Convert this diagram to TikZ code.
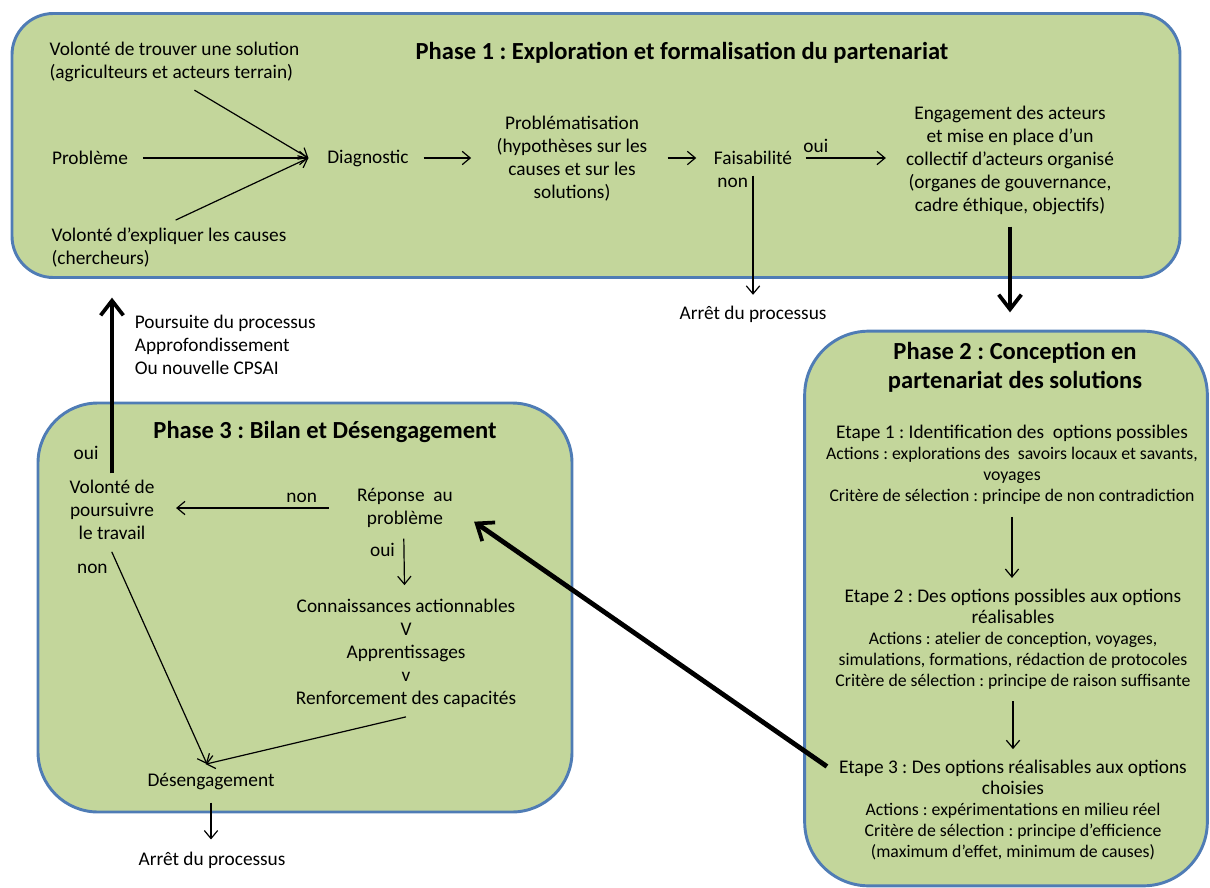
\documentclass[tikz,border=0pt]{standalone}
\usepackage{fontspec}
\setmainfont{Carlito}
\usetikzlibrary{arrows.meta}
\frenchspacing

\definecolor{phasefill}{HTML}{C3D69B}
\definecolor{phaseline}{HTML}{4F7CB5}

\tikzset{
  phasebox/.style={draw=phaseline, fill=phasefill, line width=2.2pt, rounded corners=#1, inner sep=0},
  txt/.style={align=center, inner sep=1pt, font=\fontsize{14.5}{17.25}\selectfont},
  ptxt/.style={align=center, inner sep=1pt, font=\fontsize{13.3}{15.75}\selectfont},
  ptitle/.style={align=center, inner sep=1pt, font=\fontsize{18.4}{21.75}\selectfont\bfseries},
  thin/.style={-{Straight Barb[length=6pt,width=10pt]}, line width=0.9pt},
  thick/.style={-{Straight Barb[length=11pt,width=17pt,line width=2.8pt]}, line width=3.6pt},
  lab/.style={font=\fontsize{14.5}{17}\selectfont},
}
\newcommand{\etape}{\fontsize{14.5}{16.5}\selectfont}

\begin{document}
\begin{tikzpicture}[x=0.75pt,y=-0.75pt]
  \useasboundingbox (0,0) rectangle (1210,888);

  % Phases
  \node[phasebox=31pt, minimum width=876pt, minimum height=198pt] (p1) at (596,145.5) {};
  \node[phasebox=48pt, minimum width=302pt, minimum height=416pt] (p2) at (1006,608.5) {};
  \node[phasebox=45pt, minimum width=400.5pt, minimum height=306.75pt] (p3) at (305,607.5) {};

  % Nodes phase 1
  \node[ptitle] (t1) at (682,53) {Phase 1 : Exploration et formalisation du partenariat};
  \node[txt, align=left, anchor=west] (vsol) at (48,62) {Volonté de trouver une solution\\(agriculteurs et acteurs terrain)};
  \node[txt] (prob) at (90,158) {Problème};
  \node[txt, align=left, anchor=west] (vcau) at (50,248) {Volonté d’expliquer les causes\\(chercheurs)};
  \node[txt] (diag) at (368,158) {Diagnostic};
  \node[txt] (pbm) at (572,159) {Problématisation\\(hypothèses sur les\\causes et sur les\\solutions)};
  \node[txt] (fais) at (753,158) {Faisabilité};
  \node[txt] (eng) at (1010,160) {Engagement des acteurs\\et mise en place d’un\\collectif d’acteurs organisé\\(organes de gouvernance,\\cadre éthique, objectifs)};
  \node[txt] (stop1) at (753,314) {Arrêt du processus};

  % Nodes phase 2
  \node[ptitle] (t2) at (1015,367) {Phase 2 : Conception en\\partenariat des solutions};
  \node[ptxt] (et1) at (1012,465) {{\etape Etape 1 : Identification des~ options possibles}\\Actions : explorations des~ savoirs locaux et savants,\\voyages\\Critère de sélection : principe de non contradiction};
  \node[ptxt] (et2) at (1013,639) {{\etape Etape 2 : Des options possibles aux options}\\{\etape réalisables}\\Actions : atelier de conception, voyages,\\simulations, formations, rédaction de protocoles\\Critère de sélection : principe de raison suffisante};
  \node[ptxt] (et3) at (1013,810) {{\etape Etape 3 : Des options réalisables aux options}\\{\etape choisies}\\Actions : expérimentations en milieu réel\\Critère de sélection : principe d’efficience\\(maximum d’effet, minimum de causes)};

  % Nodes phase 3
  \node[ptitle] (t3) at (325,432) {Phase 3 : Bilan et Désengagement};
  \node[txt] (vpt) at (112,510) {Volonté de\\poursuivre\\le travail};
  \node[txt] (rep) at (405,508) {Réponse~ au\\problème};
  \node[txt] (conn) at (406,653) {Connaissances actionnables\\V\\Apprentissages\\v\\Renforcement des capacités};
  \node[txt] (des) at (211,782) {Désengagement};
  \node[txt] (stop3) at (212,860) {Arrêt du processus};

  % Arrows phase 1
  \draw[thin] ([xshift=15pt,yshift=-5pt]vsol.south) -- ([xshift=-13pt]diag.west);
  \draw[thin] ([xshift=10pt]prob.east) -- ([xshift=-13pt]diag.west);
  \draw[thin] ([xshift=5pt,yshift=5pt]vcau.north) -- ([xshift=-13pt]diag.west);
  \draw[thin, shorten <=10pt, shorten >=18pt] (diag.east) -- (pbm.west |- diag.east);
  \draw[thin, shorten <=14pt, shorten >=12pt] (pbm.east |- fais.west) -- (fais.west);
  \draw[thin, shorten <=9pt, shorten >=14pt] (fais.east) -- node[pos=0.2, above, lab] {oui} (fais.east -| eng.west);
  \draw[thin, shorten <=7pt, shorten >=7pt] (fais.south) -- node[pos=0.12, left, lab] {non} (stop1.north);
  \draw[thick, shorten <=8pt, shorten >=13pt] (eng.south) -- (eng.south |- p2.north);

  % Arrows phase 2
  \draw[thin, shorten <=8pt, shorten >=7pt] (et1.south) -- (et1.south |- et2.north);
  \draw[thin, shorten <=8pt, shorten >=7pt] (et2.south) -- (et2.south |- et3.north);
  \draw[thick, shorten >=18pt] ([xshift=-8pt,yshift=-6pt]et3.north west) -- (rep.east);

  % Arrows phase 3
  \draw[thick, shorten <=4pt, shorten >=14pt] (vpt.north) -- node[pos=0.13, left=5pt, lab] {oui}
    node[pos=0.67, right=12pt, align=left, font=\fontsize{14.5}{17.25}\selectfont] {Poursuite du processus\\Approfondissement\\Ou nouvelle CPSAI} (vpt.north |- p1.south);
  \draw[thin, shorten <=20pt, shorten >=15pt] (rep.west) -- node[pos=0.27, above, lab] {non} (rep.west -| vpt.east);
  \draw[thin, shorten <=7pt, shorten >=9pt] ([xshift=-1pt]rep.south) -- node[pos=0.3, left=3pt, lab] {oui} ([xshift=-1pt]conn.north);
  \draw[thin] ([yshift=-6pt]conn.south) -- ([xshift=-4pt,yshift=6pt]des.north);
  \draw[thin, shorten <=2pt] ([xshift=-1pt,yshift=-6pt]vpt.south) -- node[pos=0.09, left=5pt, lab] {non} ([xshift=-3pt,yshift=6pt]des.north);
  \draw[thin, shorten <=8pt, shorten >=8pt] (des.south) -- (des.south |- stop3.north);
\end{tikzpicture}
\end{document}
